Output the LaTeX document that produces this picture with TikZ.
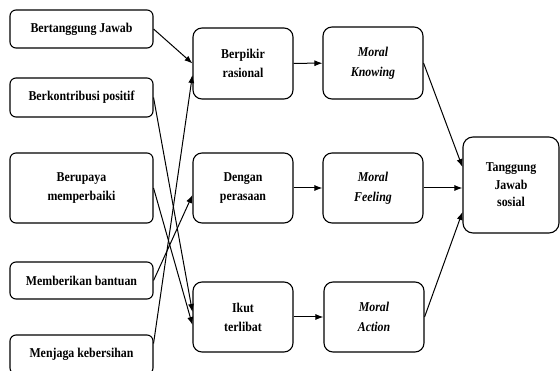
\documentclass[tikz,border=0pt]{standalone}
\usepackage{fontspec}
\setmainfont{Liberation Serif}[FakeStretch=0.88]
\usetikzlibrary{positioning,arrows.meta}

\begin{document}
\begin{tikzpicture}[x=1pt,y=-1pt,>={Latex[length=8pt,width=6pt]},
  box/.style={draw,line width=1.1pt,rounded corners=6pt,align=center,inner sep=0pt,
    font=\bfseries\fontsize{13.5}{19}\selectfont},
  sidebox/.style={box,minimum width=143pt},
  midbox/.style={box,rounded corners=9pt,minimum width=100pt,minimum height=70pt},
  moralbox/.style={midbox,font=\bfseries\itshape\fontsize{13.5}{20}\selectfont},
  link/.style={->,line width=1pt}]
            \path[use as bounding box,clip] (0,0) rectangle (560,371);
            % left column
            \node[sidebox,minimum height=38pt] (tanggung) at (81.5,29) {Bertanggung Jawab};
            \node[sidebox,minimum height=39pt] (kontribusi) at (81.5,97.5) {Berkontribusi positif};
            \node[sidebox,minimum height=70pt] (upaya) at (81.5,188) {Berupaya\\memperbaiki};
            \node[sidebox,minimum height=37pt] (bantuan) at (81.5,280.5) {Memberikan bantuan};
            \node[sidebox,minimum height=39pt] (bersih) at (81.5,354.5) {Menjaga kebersihan};
            % middle column
            \node[midbox,minimum height=71pt] (rasional) at (243,63.5) {Berpikir\\rasional};
            \node[midbox] (perasaan) at (243,188) {Dengan\\perasaan};
            \node[midbox] (terlibat) at (243,317) {Ikut\\terlibat};
            % moral column
            \node[moralbox,minimum height=72pt] (knowing) at (373,63) {Moral\\Knowing};
            \node[moralbox] (feeling) at (373,188) {Moral\\Feeling};
            \node[moralbox] (action) at (374,317) {Moral\\Action};
            \node[box,rounded corners=10pt,minimum width=96pt,minimum height=96pt,
              font=\bfseries\fontsize{13.5}{17.5}\selectfont] (sosial) at (511,185) {Tanggung\\Jawab\\sosial};
            % connectors
            \draw[link] (tanggung.east) -- (rasional.west);
            \draw[link] (kontribusi.east) -- ([yshift=5pt]terlibat.west);
            \draw[link] (upaya.east) -- ([yshift=-8pt]terlibat.west);
            \draw[link] (bantuan.east) -- ([yshift=-7pt]perasaan.west);
            \draw[link] ([yshift=11pt]bersih.east) -- ([yshift=-11.5pt]rasional.west);
            \draw[link] (rasional) -- (knowing);
            \draw[link] (perasaan) -- (feeling);
            \draw[link] (terlibat) -- (action);
            \draw[link] (knowing.east) -- ([yshift=18pt]sosial.west);
            \draw[link] (feeling.east) -- ([yshift=-3pt]sosial.west);
            \draw[link] (action.east) -- ([yshift=-27pt]sosial.west);
        \end{tikzpicture}
\end{document}
